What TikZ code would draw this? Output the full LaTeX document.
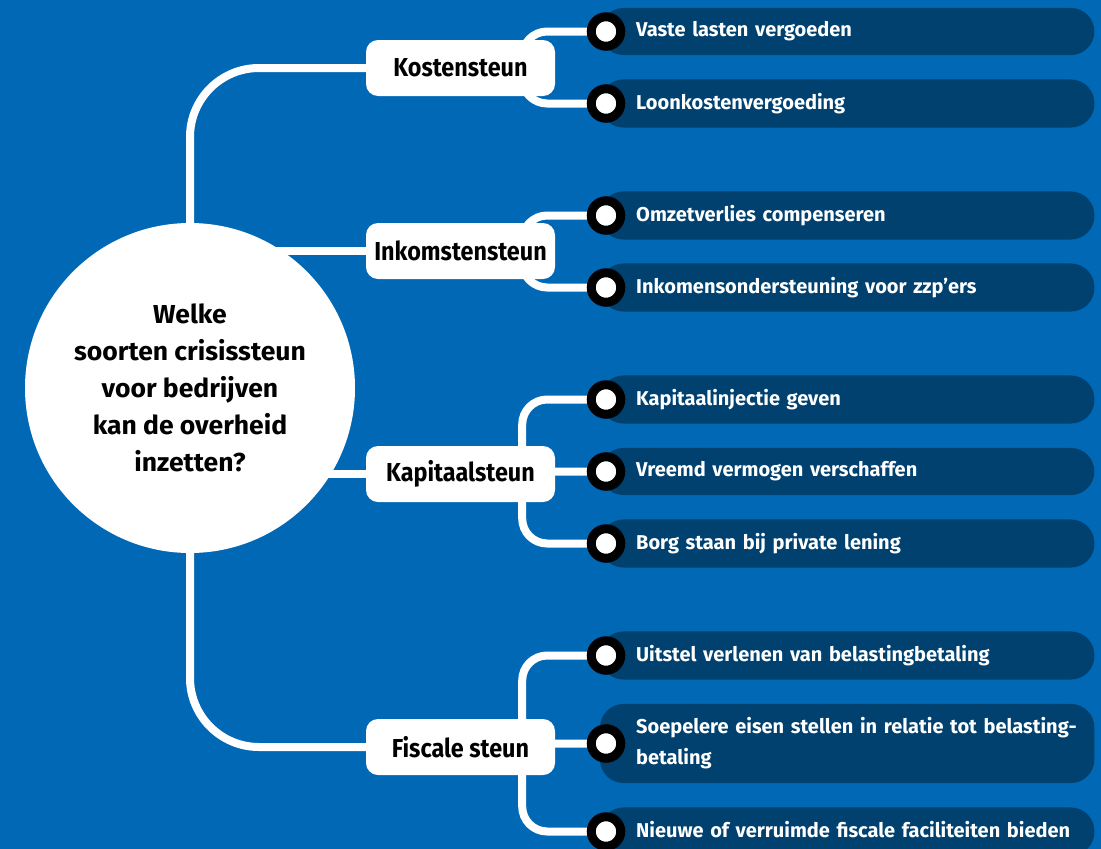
\documentclass[tikz,border=0pt]{standalone}
\usepackage{fontspec}
\newfontfamily\hubfont{Fira Sans}[FakeStretch=1.02]
\newfontfamily\catfont{Fira Sans}[FakeStretch=0.9]
\newfontfamily\leaffont{Fira Sans}[FakeStretch=1.0]
\definecolor{crisisblue}{RGB}{0,104,180}
\definecolor{crisisdark}{RGB}{0,65,112}
\pgfdeclarelayer{bg}
\pgfdeclarelayer{links}
\pgfsetlayers{bg,links,main}

\begin{document}
\begin{tikzpicture}[x=1pt,y=-1pt,
    link/.style={draw=white, line width=8pt},
    hub/.style={circle, fill=white, minimum size=330pt, inner sep=0pt, align=center,
      font=\hubfont\bfseries\fontsize{26}{37}\selectfont},
    cat/.style={fill=white, rounded corners=12pt, minimum width=189pt, minimum height=56pt,
      inner sep=0pt, font=\catfont\bfseries\fontsize{26}{30}\selectfont},
    leaf/.style={anchor=west, text width=452pt, align=left, inner xsep=0pt, inner ysep=13.5pt,
      text=white, font=\leaffont\bfseries\fontsize{20}{31}\selectfont,
      execute at begin node={\vphantom{lg}}},
    dot/.style={circle, draw=black, fill=white, line width=9pt, minimum size=29.5pt, inner sep=0pt},
    bar/.style={fill=crisisdark, rounded corners=23.5pt}]
  \useasboundingbox (0,0) rectangle (1101,849);
  \begin{pgfonlayer}{bg}
    \fill[crisisblue] (0,0) rectangle (1101,849);
  \end{pgfonlayer}

  % centre and the four kinds of support
  \node[hub] (hub) at (190,388) {Welke\\soorten crisissteun\\voor bedrijven\\kan de overheid\\inzetten?};
  \node[cat] (kost) at (460.5,68) {Kostensteun};
  \node[cat] (inko) at (460.5,251) {Inkomstensteun};
  \node[cat] (kapi) at (460.5,474) {Kapitaalsteun};
  \node[cat] (fisc) at (460.5,747) {Fiscale steun};
  \foreach \c in {kost,inko,kapi,fisc}
    \coordinate (\c-j) at ([xshift=-33pt]\c.east);

  % measures
  \foreach \i/\y/\txt in {1/31.5/{Vaste lasten vergoeden},
      2/103.5/{Loonkostenvergoeding},
      3/215.5/{Omzetverlies compenseren},
      4/287.5/{Inkomensondersteuning voor zzp’ers},
      5/399.5/{Kapitaalinjectie geven},
      6/471.5/{Vreemd vermogen verschaffen},
      7/543.5/{Borg staan bij private lening},
      8/655.5/{Uitstel verlenen van belastingbetaling},
      9/743.5/{Soepelere eisen stellen in relatie tot belasting-\\betaling},
      10/831.5/{Nieuwe of verruimde fiscale faciliteiten bieden}}{
    \node[leaf] (l\i) at (636,\y) {\txt};
    \node[dot] (d\i) at (606,\y) {};
    \begin{pgfonlayer}{bg}
      \fill[bar] ([xshift=-36pt]l\i.south west) rectangle ([xshift=6pt]l\i.north east);
    \end{pgfonlayer}
  }

  % connectors
  \begin{pgfonlayer}{links}
    \draw[link, rounded corners=69pt] (kost) -| (hub) |- (fisc);
    \draw[link] (inko) -- (inko -| hub);
    \draw[link] (kapi) -- (kapi -| hub);
    \foreach \c/\i in {kost/1,kost/2,inko/3,inko/4,kapi/5,kapi/6,kapi/7,fisc/8,fisc/9,fisc/10}
      \draw[link, rounded corners=25pt] (\c-j) |- (d\i);
  \end{pgfonlayer}
\end{tikzpicture}
\end{document}
